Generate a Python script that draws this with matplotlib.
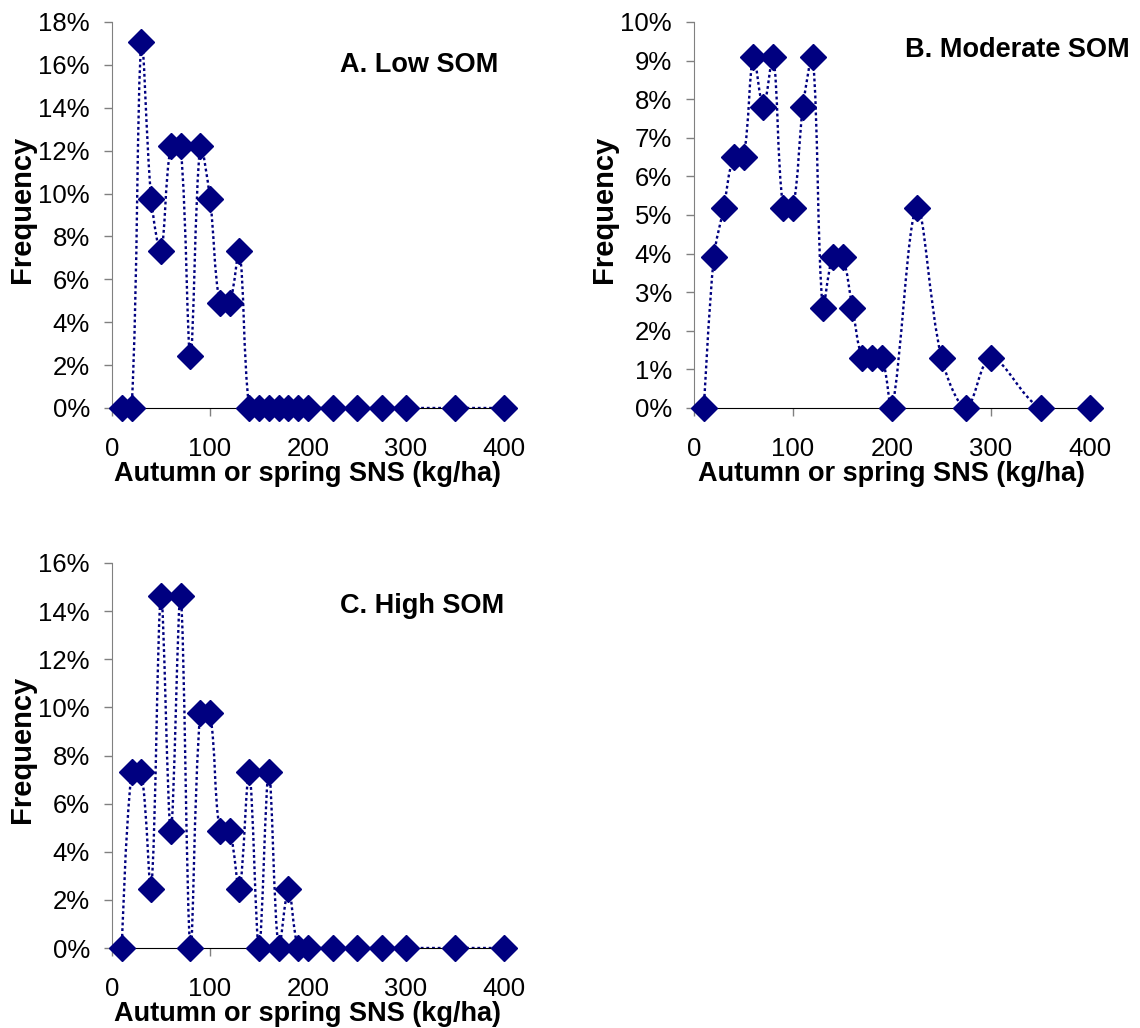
import numpy as np
import matplotlib.pyplot as plt
from matplotlib.path import Path
from matplotlib.patches import PathPatch
from matplotlib.ticker import PercentFormatter

plt.rcParams['font.family'] = ['Liberation Sans', 'DejaVu Sans']

# SNS classes (kg/ha)
sns_classes = [10, 20, 30, 40, 50, 60, 70, 80, 90, 100, 110, 120, 130, 140, 150,
               160, 170, 180, 190, 200, 225, 250, 275, 300, 350, 400]

# frequencies (%)
freq_low = [0, 0, 17.07, 9.76, 7.32, 12.20, 12.20, 2.44, 12.20, 9.76, 4.88, 4.88, 7.32,
            0, 0, 0, 0, 0, 0, 0, 0, 0, 0, 0, 0, 0]
freq_moderate = [0, 3.90, 5.19, 6.49, 6.49, 9.09, 7.79, 9.09, 5.19, 5.19, 7.79, 9.09, 2.60,
                 3.90, 3.90, 2.60, 1.30, 1.30, 1.30, 0, 5.19, 1.30, 0, 1.30, 0, 0]
freq_high = [0, 7.32, 7.32, 2.44, 14.63, 4.88, 14.63, 0, 9.76, 9.76, 4.88, 4.88, 2.44,
             7.32, 0, 7.32, 0, 2.44, 0, 0, 0, 0, 0, 0, 0, 0]

titles = ['A. Low SOM', 'B. Moderate SOM', 'C. High SOM']
navy = '#000080'

W, H = 1140, 1028
fig = plt.figure(figsize=(W / 100, H / 100), dpi=100)


def smooth_path(x, y, sx, sy):
    # smoothed line like Excel: bezier segments, tangents weighted by the
    # on-screen lengths of the neighbouring segments (sx, sy = px per unit)
    x = np.asarray(x, float)
    y = np.asarray(y, float)
    n = len(x)
    d = np.hypot(np.diff(x) * sx, np.diff(y) * sy)
    tx = np.zeros(n)
    ty = np.zeros(n)
    tx[1:-1] = x[2:] - x[:-2]
    ty[1:-1] = y[2:] - y[:-2]
    verts = [(x[0], y[0])]
    codes = [Path.MOVETO]
    for i in range(n - 1):
        if i > 0:
            k1 = d[i] / (d[i - 1] + d[i]) / 3
        else:
            k1 = 0
        if i < n - 2:
            k2 = d[i] / (d[i] + d[i + 1]) / 3
        else:
            k2 = 0
        c1 = (x[i] + tx[i] * k1, y[i] + ty[i] * k1)
        c2 = (x[i + 1] - tx[i + 1] * k2, y[i + 1] - ty[i + 1] * k2)
        verts += [c1, c2, (x[i + 1], y[i + 1])]
        codes += [Path.CURVE4] * 3
    return Path(verts, codes)


def panel(rect_px, freq, ymax, title, title_px):
    l, t, r, b = rect_px
    ax = fig.add_axes([l / W, 1 - b / H, (r - l) / W, (b - t) / H])
    sx = (r - l) / 400
    sy = (b - t) / ymax
    patch = PathPatch(smooth_path(sns_classes, freq, sx, sy), fill=False, edgecolor=navy,
                      lw=1.7, linestyle=(0, (1.2, 1.2)), zorder=2)
    ax.add_patch(patch)
    ax.plot(sns_classes, freq, linestyle='none', marker='D', ms=13, color=navy,
            clip_on=False, zorder=3)
    ax.set_xlim(0, 400)
    ax.set_ylim(0, ymax)
    ax.set_xticks([0, 100, 200, 300, 400])
    ax.set_yticks(np.arange(0, ymax + 0.01, 2 if ymax > 10 else 1))
    ax.yaxis.set_major_formatter(PercentFormatter(decimals=0))
    for s in ['top', 'right']:
        ax.spines[s].set_visible(False)
    ax.spines['left'].set_color('#808080')
    ax.spines['bottom'].set_color('black')
    ax.tick_params(axis='y', direction='out', length=6, width=1, color='#808080',
                   labelsize=18.5, pad=10)
    ax.tick_params(axis='x', direction='out', length=6, width=1, color='#808080',
                   labelsize=18.5, pad=15)
    fig.text(title_px[0] / W, 1 - title_px[1] / H, title, fontsize=19.5, fontweight='bold',
             ha='left', va='baseline')
    fig.text((l + r) / 2 / W, 1 - (b + 73) / H, 'Autumn or spring SNS (kg/ha)',
             fontsize=19.5, fontweight='bold', ha='center', va='baseline')
    fig.text((l - 90) / W, 1 - (t + b - 12) / 2 / H, 'Frequency', fontsize=21,
             fontweight='bold', rotation=90, ha='center', va='center')
    return ax


panel((112, 22, 504, 408), freq_low, 18, titles[0], (340, 72))
panel((694, 22, 1090, 408), freq_moderate, 10, titles[1], (905, 57))
panel((112, 563, 504, 948), freq_high, 16, titles[2], (340, 613))

fig.savefig('out.png', dpi=100)
